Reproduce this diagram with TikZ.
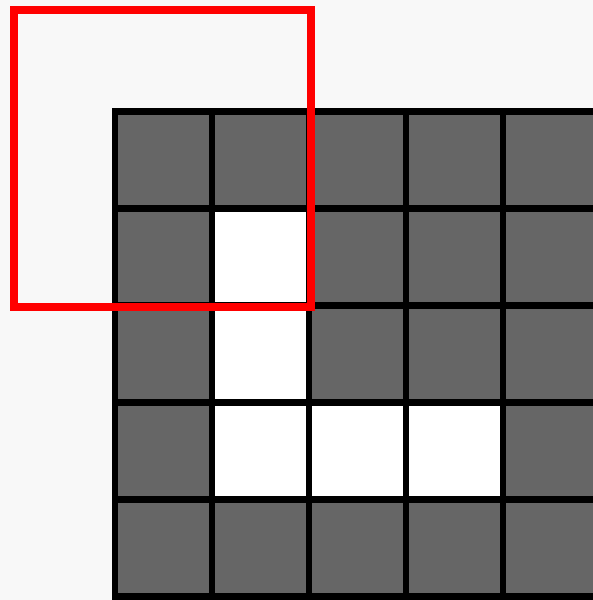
\documentclass[tikz,border=0pt]{standalone}
\usepackage{xcolor}
\usepackage{tikz}
\definecolor{paper}{HTML}{F8F8F8}
\definecolor{wallgray}{HTML}{666666}

\begin{document}
\begin{tikzpicture}[
  x=1pt, y=-1pt,
  cell/.style={draw=black, line width=6.5pt, fill=wallgray},
  opencell/.style={cell, fill=white},
  window/.style={draw=red, line width=8pt}
]
\fill[paper] (0,0) rectangle (593,600);
\useasboundingbox (0,0) rectangle (593,600);
\clip (0,0) rectangle (593,600);
% grid of cells, running past the edges
\foreach \r in {0,...,5}
  \foreach \c in {0,...,5}
    \draw[cell] ({115+97*\c},{111.5+97*\r}) rectangle ++(97,97);
% the free path
\foreach \r/\c in {1/1,2/1,3/1,3/2,3/3}
  \draw[opencell] ({115+97*\c},{111.5+97*\r}) rectangle ++(97,97);
% view window
\coordinate (win-nw) at (13.5,9.5);
\coordinate (win-se) at (311,307);
\draw[window] (win-nw) rectangle (win-se);
\end{tikzpicture}
\end{document}
